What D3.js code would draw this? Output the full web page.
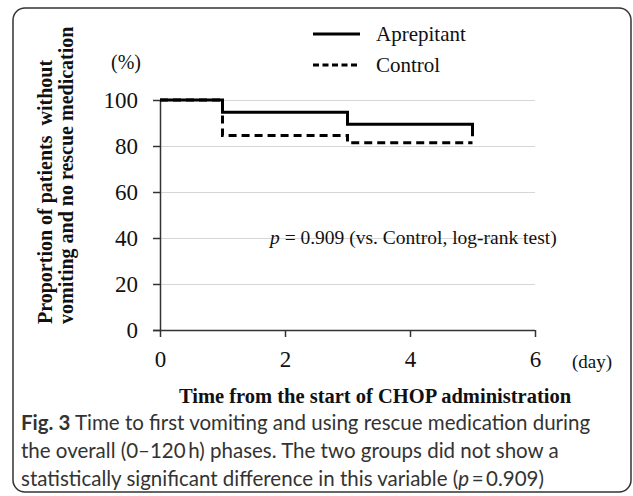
<!DOCTYPE html>
<html lang="en">
<head>
<meta charset="UTF-8">
<title>Time to first vomiting</title>
<script src="https://d3js.org/d3.v7.min.js"></script>
<style>
  body { margin: 0; background: #fff; }
  .serif { font-family: "Liberation Serif", "Times New Roman", serif; fill: #111; }
  .cap { font-family: Lato, "Open Sans", sans-serif; fill: #333; }
</style>
</head>
<body>
<svg id="chart" width="633" height="496"></svg>
<script>
  // data (days from start of CHOP, % without vomiting / rescue)
  var days = [0, 1, 3, 5];
  var aprepitant = [100, 94.7, 89.5, 84.2];
  var control = [100, 84.6, 81.4, 81.4];
  var yTicks = [0, 20, 40, 60, 80, 100];
  var xTicks = [0, 2, 4, 6];
  var seriesNames = ["Aprepitant", "Control"];

  var svg = d3.select("#chart");

  // outer frame
  svg.append("rect")
    .attr("x", 13).attr("y", 8)
    .attr("width", 618).attr("height", 484)
    .attr("rx", 12)
    .attr("fill", "none")
    .attr("stroke", "#333")
    .attr("stroke-width", 1.5);

  var x = d3.scaleLinear().domain([0, 6]).range([160, 535]);
  var y = d3.scaleLinear().domain([0, 100]).range([330, 100]);

  // gridlines
  svg.append("g")
    .attr("transform", "translate(160,0)")
    .call(d3.axisLeft(y).tickValues(yTicks.slice(1)).tickSize(-375).tickFormat(""))
    .call(function(g) {
      g.select(".domain").remove();
      g.selectAll("line").attr("stroke", "#d6d6d6").attr("stroke-width", 1);
    });

  // y axis
  var yAxis = svg.append("g")
    .attr("transform", "translate(160,0)")
    .call(d3.axisLeft(y).tickValues(yTicks).tickSize(7).tickSizeOuter(0).tickPadding(15));
  yAxis.select(".domain").attr("stroke", "#333").attr("stroke-width", 1.5);
  yAxis.selectAll("line").attr("stroke", "#333").attr("stroke-width", 1.5);
  yAxis.selectAll("text")
    .attr("class", "serif")
    .style("font-size", "23px")
    .attr("fill", "#111");

  // x axis
  var xAxis = svg.append("g")
    .attr("transform", "translate(0,330)")
    .call(d3.axisBottom(x).tickValues(xTicks).tickFormat(d3.format("d"))
      .tickSize(7).tickSizeOuter(0).tickPadding(14));
  xAxis.select(".domain").attr("stroke", "#333").attr("stroke-width", 1.5)
    .attr("d", "M153,0.5H" + x(6));
  xAxis.selectAll("line").attr("stroke", "#333").attr("stroke-width", 1.5);
  xAxis.selectAll("text")
    .attr("class", "serif")
    .style("font-size", "23px")
    .attr("fill", "#111");

  // step lines
  var line = d3.line()
    .x(function(d) { return x(d[0]); })
    .y(function(d) { return y(d[1]); })
    .curve(d3.curveStepAfter);

  svg.append("path")
    .datum(d3.zip(days, control))
    .attr("d", line)
    .attr("fill", "none")
    .attr("stroke", "#000")
    .attr("stroke-width", 3)
    .attr("stroke-dasharray", "8,5");

  svg.append("path")
    .datum(d3.zip(days, aprepitant))
    .attr("d", line)
    .attr("fill", "none")
    .attr("stroke", "#000")
    .attr("stroke-width", 3);

  // legend
  var legend = svg.append("g");
  seriesNames.forEach(function(name, i) {
    var ly = 34 + i * 31;
    legend.append("line")
      .attr("x1", 313).attr("x2", 360)
      .attr("y1", ly).attr("y2", ly)
      .attr("stroke", "#000")
      .attr("stroke-width", 3)
      .attr("stroke-dasharray", i == 1 ? "6,3.5" : null);
    legend.append("text")
      .attr("class", "serif")
      .attr("x", 376).attr("y", ly + 7)
      .style("font-size", "21px")
      .text(name);
  });

  // (%) and (day)
  svg.append("text").attr("class", "serif")
    .attr("x", 126).attr("y", 69)
    .attr("text-anchor", "middle")
    .style("font-size", "20px")
    .text("(%)");
  svg.append("text").attr("class", "serif")
    .attr("x", 572).attr("y", 368)
    .style("font-size", "19px")
    .text("(day)");

  // p value note
  var pt = svg.append("text").attr("class", "serif")
    .attr("x", 270).attr("y", 244)
    .style("font-size", "19.5px");
  pt.append("tspan").style("font-style", "italic").text("p");
  pt.append("tspan").text(" = 0.909 (vs. Control, log-rank test)");

  // y axis title (two lines, rotated)
  var ytitle = ["Proportion of patients  without", "vomiting and no rescue medication"];
  ytitle.forEach(function(t, i) {
    svg.append("text").attr("class", "serif")
      .attr("transform", "translate(" + (52 + i * 21) + ",324) rotate(-90)")
      .style("font-size", "20px")
      .style("font-weight", "bold")
      .style("white-space", "pre")
      .text(t);
  });

  // x axis title
  svg.append("text").attr("class", "serif")
    .attr("x", 375).attr("y", 403)
    .attr("text-anchor", "middle")
    .style("font-size", "20.5px")
    .style("font-weight", "bold")
    .text("Time from the start of CHOP administration");

  // caption
  var capLines = [
    "Time to first vomiting and using rescue medication during",
    "the overall (0\u2013120\u2009h) phases. The two groups did not show a",
    "statistically significant difference in this variable ("
  ];
  var c1 = svg.append("text").attr("class", "cap")
    .attr("x", 21).attr("y", 430).style("font-size", "20.5px");
  c1.append("tspan").style("font-weight", "bold").text("Fig. 3");
  c1.append("tspan").text(" " + capLines[0]);
  svg.append("text").attr("class", "cap")
    .attr("x", 21).attr("y", 458).style("font-size", "20.5px")
    .text(capLines[1]);
  var c3 = svg.append("text").attr("class", "cap")
    .attr("x", 21).attr("y", 486).style("font-size", "20.5px");
  c3.append("tspan").text(capLines[2]);
  c3.append("tspan").style("font-style", "italic").text("p");
  c3.append("tspan").text("\u2009=\u20090.909)");
</script>
</body>
</html>
